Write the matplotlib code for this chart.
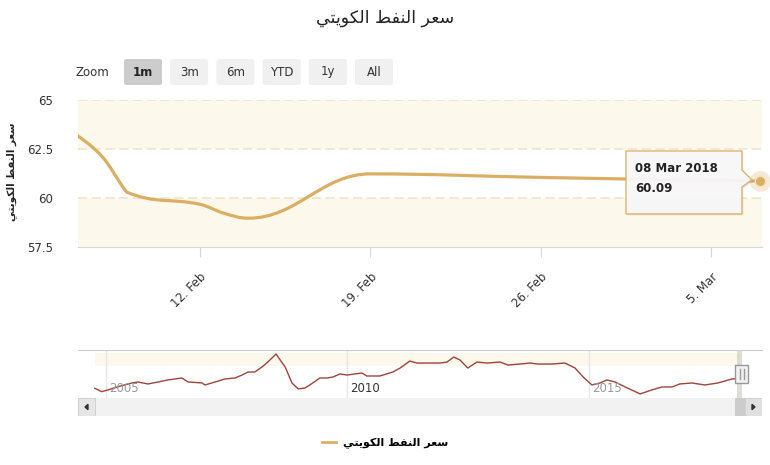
#!/usr/bin/env python3
"""
Kuwaiti oil price chart (1m zoom + navigator), redrawn with matplotlib.
"""

import matplotlib
matplotlib.use("Agg")
import matplotlib.pyplot as plt
import matplotlib.dates as mdates
from matplotlib.path import Path
from matplotlib.patches import PathPatch, FancyBboxPatch, Rectangle, Polygon
from matplotlib.lines import Line2D
from matplotlib.transforms import blended_transform_factory, IdentityTransform
from datetime import datetime

# "سعر النفط الكويتي" written with Arabic presentation forms in visual order,
# because matplotlib does no Arabic shaping / bidi
SERIES_NAME = "\uFEF2\uFE98\uFEF3\uFEEE\uFEDC\uFEDF\uFE8D \uFEC2\uFED4\uFEE8\uFEDF\uFE8D \uFEAE\uFECC\uFEB3"

# main series, last month
dates = ["2018-02-07", "2018-02-08", "2018-02-09", "2018-02-12", "2018-02-13",
         "2018-02-14", "2018-02-19", "2018-02-26", "2018-03-05", "2018-03-07"]
prices = [63.16, 62.10, 60.30, 59.68, 59.22, 58.97, 61.23, 61.05, 60.90, 60.87]
y_ticks = [57.5, 60, 62.5, 65]
x_tick_dates = ["2018-02-12", "2018-02-19", "2018-02-26", "2018-03-05"]
x_tick_labels = ["12. Feb", "19. Feb", "26. Feb", "5. Mar"]

tooltip_date = "08 Mar 2018"
tooltip_value = "60.09"

# navigator series (whole history)
nav_years = [2004.77, 2004.91, 2005.04, 2005.25, 2005.54, 2005.66, 2005.87, 2006.08,
             2006.28, 2006.57, 2006.70, 2006.99, 2007.05, 2007.26, 2007.46, 2007.67,
             2007.82, 2007.94, 2008.08, 2008.23, 2008.35, 2008.52, 2008.71, 2008.85,
             2008.98, 2009.12, 2009.22, 2009.43, 2009.58, 2009.70, 2009.84, 2009.99,
             2010.30, 2010.40, 2010.67, 2010.94, 2011.09, 2011.29, 2011.44, 2011.65,
             2011.92, 2012.06, 2012.20, 2012.33, 2012.49, 2012.68, 2012.89, 2013.16,
             2013.32, 2013.57, 2013.78, 2013.94, 2014.23, 2014.50, 2014.71, 2014.88,
             2015.06, 2015.23, 2015.37, 2015.54, 2015.75, 2016.06, 2016.30, 2016.51,
             2016.72, 2016.88, 2017.13, 2017.40, 2017.67, 2017.96, 2018.13]
nav_prices = [38.4, 29.2, 33.8, 42.7, 52.7, 55.4, 50.0, 55.4, 60.8, 66.2, 55.4, 52.7,
              47.3, 55.4, 63.5, 66.2, 74.3, 82.4, 82.4, 95.9, 109.4, 131.0, 95.9, 52.7,
              36.5, 39.2, 47.3, 66.2, 66.2, 68.9, 77.0, 74.3, 79.7, 71.6, 71.6, 82.4,
              93.2, 112.1, 106.7, 106.7, 106.7, 109.4, 122.9, 114.8, 93.2, 109.4, 106.7,
              109.4, 101.3, 104.0, 106.7, 104.0, 104.0, 106.7, 93.2, 68.9, 47.3, 52.7,
              60.8, 55.4, 41.9, 23.0, 33.8, 41.9, 41.9, 50.0, 52.7, 47.3, 52.7, 63.5, 64.9]
nav_year_ticks = [2005, 2010, 2015]

range_buttons = ["1m", "3m", "6m", "YTD", "1y", "All"]
selected_button = "1m"

LINE_COLOR = "#DAAF63"
BAND_COLOR = "#FDF8EC"
GRID_COLOR = "#EFE2C6"
NAV_COLOR = "#A0423F"
TEXT_COLOR = "#333333"

W, H = 770, 465


def rect(x0, y0, x1, y1):
    """pixel box (top-left origin) -> figure fraction rect"""
    return [x0 / W, 1 - y1 / H, (x1 - x0) / W, (y1 - y0) / H]


def spline_path(xs, ys, smoothing=1.5):
    """Highcharts-like spline through the points, as a bezier path"""
    n = len(xs)
    denom = smoothing + 1
    right = [None] * n
    verts = [(xs[0], ys[0])]
    codes = [Path.MOVETO]
    for i in range(1, n):
        px, py = xs[i], ys[i]
        lx, ly = xs[i - 1], ys[i - 1]
        left_c = (px, py)
        if i < n - 1:
            nx, ny = xs[i + 1], ys[i + 1]
            lcx = (smoothing * px + lx) / denom
            lcy = (smoothing * py + ly) / denom
            rcx = (smoothing * px + nx) / denom
            rcy = (smoothing * py + ny) / denom
            if rcx != lcx:
                corr = (rcy - lcy) * (rcx - px) / (rcx - lcx) + py - rcy
                lcy += corr
                rcy += corr
            if lcy > ly and lcy > py:
                lcy = max(ly, py)
                rcy = 2 * py - lcy
            elif lcy < ly and lcy < py:
                lcy = min(ly, py)
                rcy = 2 * py - lcy
            if rcy > ny and rcy > py:
                rcy = max(ny, py)
                lcy = 2 * py - rcy
            elif rcy < ny and rcy < py:
                rcy = min(ny, py)
                lcy = 2 * py - rcy
            left_c = (lcx, lcy)
            right[i] = (rcx, rcy)
        prev_r = right[i - 1] if right[i - 1] is not None else (lx, ly)
        verts += [prev_r, left_c, (px, py)]
        codes += [Path.CURVE4] * 3
    return Path(verts, codes)


plt.rcParams["font.family"] = ["DejaVu Sans"]
fig = plt.figure(figsize=(W / 100, H / 100), dpi=100)

# title
fig.text(0.5, 1 - 18 / H, SERIES_NAME, ha="center", va="center", fontsize=12.5,
         color="#222222")

# range selector
fig.text(76 / W, 1 - 72 / H, "Zoom", ha="left", va="center", fontsize=8.5,
         color=TEXT_COLOR)
for i, lab in enumerate(range_buttons):
    x0 = 124 + i * 46.2
    sel = lab == selected_button
    fig.patches.append(FancyBboxPatch(
        (x0 / W, 1 - 85 / H), 38 / W, 26 / H,
        boxstyle="round,pad=0,rounding_size=0.004",
        transform=fig.transFigure, facecolor="#CCCCCC" if sel else "#F0F0F0",
        edgecolor="none"))
    fig.text((x0 + 19) / W, 1 - 72 / H, lab, ha="center", va="center",
             fontsize=8.5, color="#222222" if sel else TEXT_COLOR,
             fontweight="bold" if sel else "normal")

# ---- main chart ----
ax = fig.add_axes(rect(78, 100, 762, 247))
xd = [mdates.date2num(datetime.strptime(d, "%Y-%m-%d")) for d in dates]
ax.axhspan(62.5, 65, color=BAND_COLOR, zorder=0, lw=0)
ax.axhspan(57.5, 60, color=BAND_COLOR, zorder=0, lw=0)
for yv in y_ticks[1:]:
    ax.axhline(yv, color=GRID_COLOR, lw=1.1, ls=(0, (6, 3)), zorder=1)

ax.add_patch(PathPatch(spline_path(xd, prices), fill=False, edgecolor=LINE_COLOR,
                       lw=2.3, capstyle="round", joinstyle="round", zorder=3))

# hovered last point
ax.plot(xd[-1], prices[-1], "o", ms=15, color=LINE_COLOR, alpha=0.25, mec="none",
        clip_on=False, zorder=4)
ax.plot(xd[-1], prices[-1], "o", ms=7.5, color=LINE_COLOR, mec="#F3E3C2", mew=1,
        clip_on=False, zorder=5)

ax.set_xlim(mdates.date2num(datetime(2018, 2, 7)),
            mdates.date2num(datetime(2018, 3, 7, 2)))
ax.set_ylim(y_ticks[0], y_ticks[-1])
ax.set_yticks(y_ticks)
ax.set_yticklabels(["57.5", "60", "62.5", "65"])
ax.set_xticks([mdates.date2num(datetime.strptime(d, "%Y-%m-%d")) for d in x_tick_dates])
ax.set_xticklabels(x_tick_labels)
for s in ["top", "left", "right"]:
    ax.spines[s].set_visible(False)
ax.spines["bottom"].set_color("#D6D6D6")
ax.tick_params(axis="y", length=0, pad=18, labelsize=8.5, labelcolor=TEXT_COLOR)
ax.tick_params(axis="x", length=7, color="#D6D6D6", pad=10, labelsize=8.5,
               labelcolor=TEXT_COLOR)
for t in ax.get_xticklabels():
    t.set_rotation(45)
    t.set_ha("right")
    t.set_va("top")
    t.set_rotation_mode("anchor")
for t in ax.get_yticklabels():
    t.set_ha("right")
ax.set_facecolor("white")

fig.text(12 / W, 1 - 172 / H, SERIES_NAME, rotation=90, ha="center", va="center",
         fontsize=7.5, fontweight="bold", color="#222222")

# tooltip callout, placed relative to the hovered point (display pixels)
mx, my = ax.transData.transform((xd[-1], prices[-1]))
bl, br, bt, bb = mx - 134, mx - 18, my + 30, my - 33
callout = [(bl, bb), (bl, bt), (br, bt), (br, my + 11), (mx - 8, my + 1),
           (br, my - 6), (br, bb)]
shadow = [(x + 1.5, y - 1.5) for x, y in callout]
fig.patches.append(Polygon(shadow, closed=True, transform=IdentityTransform(),
                           facecolor="#000000", alpha=0.08, edgecolor="none",
                           zorder=6))
fig.patches.append(Polygon(callout, closed=True, transform=IdentityTransform(),
                           facecolor="#F8F8F8", alpha=0.95, edgecolor=LINE_COLOR,
                           lw=1, zorder=7))
fig.text(bl + 9, my + 9, tooltip_date, transform=IdentityTransform(), ha="left",
         va="baseline", fontsize=8.5, fontweight="bold", color="#222222", zorder=8)
fig.text(bl + 9, my - 11, tooltip_value, transform=IdentityTransform(), ha="left",
         va="baseline", fontsize=8.5, fontweight="bold", color="#222222", zorder=8)

# ---- navigator ----
nav = fig.add_axes(rect(78, 350, 762, 398))
nav_left = 2005 + (78 - 106) / 48.3
nav_right = 2005 + (762 - 106) / 48.3
nav.set_xlim(nav_left, nav_right)
nav.set_ylim(12, 142)
nav.fill_between([nav_years[0], nav_years[-1]], 99, 134, color=BAND_COLOR, lw=0,
                 zorder=0)
nav.plot(nav_years, nav_prices, color=NAV_COLOR, lw=1, zorder=3)
nav.set_xticks(nav_year_ticks)
nav.grid(axis="x", color="#E6E6E6", lw=1)
nav.set_yticks([])
nav.tick_params(axis="x", length=0, labelbottom=False)
for s in ["bottom", "left", "right"]:
    nav.spines[s].set_visible(False)
nav.spines["top"].set_color("#CCCCCC")
bt_nav = blended_transform_factory(nav.transData, nav.transAxes)
for yr in nav_year_ticks:
    nav.text(yr + 0.06, 0.2, str(yr), transform=bt_nav, ha="left", va="center",
             fontsize=8.5, color=TEXT_COLOR if yr == 2010 else "#999999", zorder=4)

# selected range + handle
sel0, sel1 = 2018.06, 2018.16
nav.axvspan(sel0, sel1, color="#C8C8B8", alpha=0.6, lw=0, zorder=2)
nav.add_patch(Rectangle((sel1 - 0.14, 0.31), 0.28, 0.38, transform=bt_nav,
                        facecolor="#F2F2F2", edgecolor="#999999", lw=1, zorder=5,
                        clip_on=False))
for dx in (-0.04, 0.04):
    nav.plot([sel1 + dx, sel1 + dx], [0.4, 0.6], transform=bt_nav, color="#999999",
             lw=1, zorder=6, clip_on=False)

# scrollbar
sb = fig.add_axes(rect(78, 398, 762, 416))
sb.set_xlim(0, 684)
sb.set_ylim(0, 1)
sb.axis("off")
sb.add_patch(Rectangle((0, 0), 684, 1, facecolor="#F2F2F2", edgecolor="none"))
sb.add_patch(Rectangle((0, 0), 17, 1, facecolor="#E6E6E6", edgecolor="#CCCCCC", lw=0.6))
sb.add_patch(Rectangle((657, 0), 10, 1, facecolor="#CCCCCC", edgecolor="none"))
sb.add_patch(Rectangle((667, 0), 17, 1, facecolor="#E0E0E0", edgecolor="#CCCCCC", lw=0.6))
sb.add_patch(Polygon([(10, 0.35), (10, 0.65), (7, 0.5)], closed=True, color="#333333"))
sb.add_patch(Polygon([(674, 0.35), (674, 0.65), (677, 0.5)], closed=True, color="#333333"))

# legend
fig.legend(handles=[Line2D([], [], color=LINE_COLOR, lw=2)], labels=[SERIES_NAME],
           loc="center", bbox_to_anchor=(385 / W, 1 - 443 / H), frameon=False,
           handlelength=1.3, handletextpad=0.6,
           prop={"size": 8, "weight": "bold"})

fig.savefig("out.png", dpi=100)
